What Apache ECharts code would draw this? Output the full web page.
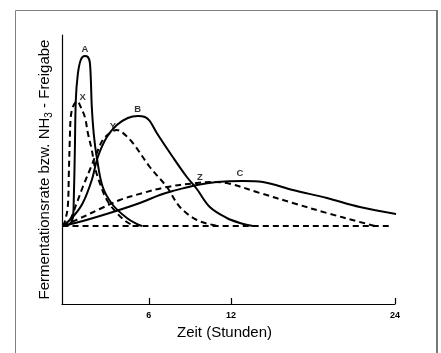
<!DOCTYPE html>
<html>
<head>
<meta charset="utf-8">
<script src="https://cdn.jsdelivr.net/npm/echarts@6/dist/echarts.min.js"></script>
<style>
  html, body { margin: 0; padding: 0; background: #fff; }
  #chart { width: 441px; height: 353px; }
</style>
</head>
<body>
<div id="chart"></div>
<script>
// time in hours, rate in arbitrary units (0 = baseline)
const curveA = [[-0.3, 0], [0.22, 0.2], [0.44, 0.8], [0.51, 2.6], [0.59, 7.6], [0.66, 12.6], [0.8, 15.1], [1.02, 16.6], [1.32, 17.0], [1.54, 16.9], [1.68, 16.4], [1.76, 14.6], [1.83, 11.9], [1.98, 9.1], [2.19, 6.9], [2.63, 3.9], [3.37, 2.1], [4.39, 0.8], [5.12, 0.2], [5.5, 0]]
const curveX = [[-0.3, 0], [-0.15, 0.4], [0.07, 1.9], [0.15, 5.3], [0.22, 8.6], [0.29, 10.9], [0.44, 11.9], [0.66, 12.4], [0.8, 12.5], [0.95, 12.1], [1.32, 10.9], [1.54, 9.3], [1.83, 7.6], [2.05, 5.9], [2.41, 4.3], [2.93, 2.6], [3.66, 1.3], [4.39, 0.4], [4.97, 0]]
const curveB = [[-0.3, 0], [0.44, 0.9], [1.17, 2.3], [1.83, 4.6], [2.27, 6.9], [2.93, 8.9], [3.66, 10.1], [4.46, 10.8], [5.19, 11.0], [5.71, 10.9], [6.07, 10.5], [6.58, 9.3], [7.75, 6.9], [8.78, 4.9], [9.51, 3.7], [10.46, 1.9], [11.7, 0.8], [12.66, 0.3], [13.61, 0]]
const curveY = [[-0.3, 0], [0.22, 0.6], [0.73, 2.3], [1.17, 3.9], [1.68, 5.6], [2.19, 7.3], [2.63, 8.6], [3.15, 9.3], [3.66, 9.6], [4.02, 9.4], [4.83, 8.3], [6.07, 5.9], [7.32, 3.9], [8.27, 1.9], [9.51, 0.6], [10.68, 0.1], [11.19, 0]]
const curveC = [[-0.3, 0], [1.17, 0.5], [3.37, 1.4], [5.34, 2.3], [6.8, 3.1], [7.75, 3.5], [9.51, 4.1], [10.97, 4.4], [12.87, 4.5], [14.34, 4.4], [16.53, 3.6], [19.02, 2.8], [21.43, 1.9], [24.5, 1.1]]
const curveZ = [[-0.3, 0], [1.17, 0.9], [2.41, 1.7], [3.88, 2.6], [5.56, 3.3], [7.32, 3.9], [9.51, 4.3], [10.68, 4.4], [11.7, 4.3], [14.12, 3.3], [16.53, 2.3], [19.02, 1.3], [21.43, 0.4], [22.53, 0]]
const baseline = [[-0.3, 0], [23.8, 0]]
const curveLabels = [['A', 1.32, 17.7], ['X', 1.17, 12.9], ['B', 5.19, 11.7], ['Y', 3.37, 10.0], ['Z', 9.73, 4.9], ['C', 12.66, 5.3]]
const xTicks = [6, 12, 24]

const font = 'Liberation Sans, Arial, sans-serif'
const solid = (name, data) => ({
    name, type: 'line', data, symbol: 'none', smooth: 0.35, clip: false,
    lineStyle: { color: '#000', width: 2 },
})
const dashed = (name, data) => ({
    name, type: 'line', data, symbol: 'none', smooth: 0.35, clip: false,
    lineStyle: { color: '#000', width: 2, type: [6, 4] },
})

const chart = echarts.init(document.getElementById('chart'), null, { renderer: 'canvas' })
chart.setOption({
    animation: false,
    backgroundColor: '#fff',
    graphic: [
        { type: 'line', shape: { x1: 15.5, y1: 10.5, x2: 437, y2: 10.5 }, style: { stroke: '#808080', lineWidth: 1 } },
        { type: 'line', shape: { x1: 15.5, y1: 10.5, x2: 15.5, y2: 360 }, style: { stroke: '#808080', lineWidth: 1 } },
        { type: 'line', shape: { x1: 437, y1: 10, x2: 437, y2: 360 }, style: { stroke: '#777', lineWidth: 2 } },
    ],
    grid: { left: 62, top: 35, right: 46, bottom: 49, outerBoundsMode: 'none' },
    xAxis: {
        type: 'value', min: -0.35, max: 24,
        name: 'Zeit (Stunden)', nameLocation: 'middle', nameGap: 21,
        nameTextStyle: { fontFamily: font, fontSize: 15, color: '#000', padding: [0, 8, 0, 0] },
        axisLine: { onZero: false, lineStyle: { color: '#000', width: 1.2 } },
        axisTick: { show: true, inside: true, length: 6, customValues: xTicks, lineStyle: { color: '#000', width: 1.2 } },
        axisLabel: { customValues: xTicks, margin: 7, fontFamily: font, fontSize: 9, fontWeight: 'bold', color: '#000' },
        splitLine: { show: false },
    },
    yAxis: {
        type: 'value', min: -7.8, max: 19.1,
        name: '{a|Fermentationsrate bzw. NH}{s|3}{a| - Freigabe}', nameLocation: 'middle', nameRotate: 90, nameGap: 8,
        nameTextStyle: {
            fontFamily: font, fontSize: 15, color: '#000',
            rich: {
                a: { fontFamily: font, fontSize: 15, color: '#000', lineHeight: 18 },
                s: { fontFamily: font, fontSize: 10, color: '#000', verticalAlign: 'bottom', lineHeight: 11 },
            },
        },
        axisLine: { show: true, onZero: false, lineStyle: { color: '#000', width: 1.2 } },
        axisTick: { show: false },
        axisLabel: { show: false },
        splitLine: { show: false },
    },
    series: [
        dashed('baseline', baseline),
        solid('A', curveA),
        dashed('X', curveX),
        solid('B', curveB),
        dashed('Y', curveY),
        solid('C', curveC),
        dashed('Z', curveZ),
        {
            name: 'labels', type: 'scatter', symbolSize: 0, clip: false,
            data: curveLabels.map(([n, t, v]) => ({ name: n, value: [t, v] })),
            label: {
                show: true, position: 'inside', formatter: (p) => p.name,
                fontFamily: font, fontSize: 9.5, fontWeight: 'bold', color: '#000',
            },
        },
    ],
})
</script>
</body>
</html>
